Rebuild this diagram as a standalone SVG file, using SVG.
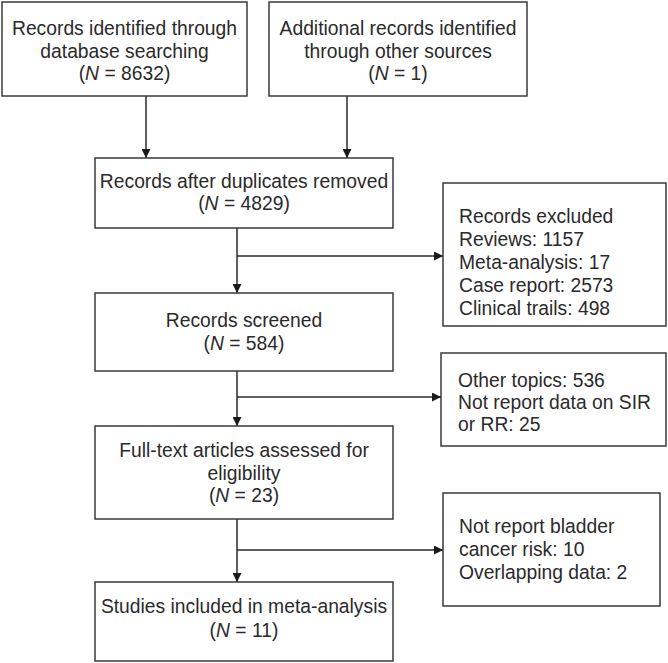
<svg xmlns="http://www.w3.org/2000/svg" width="668" height="663" viewBox="0 0 668 663">
<style>
.box{fill:#fff;stroke:#3a3a3a;stroke-width:1.5}
.t{font-family:"Liberation Sans",Arial,sans-serif;font-size:19.3px;fill:#2a2a2a}
.c{text-anchor:middle}
.ln{stroke:#2a2a2a;stroke-width:1.5;fill:none}
</style>
<defs>
<marker id="ah" viewBox="0 0 10 10" refX="10" refY="5" markerWidth="9" markerHeight="9" markerUnits="userSpaceOnUse" orient="auto">
<path d="M0,0 L10,5 L0,10 z" fill="#1a1a1a"/>
</marker>
</defs>
<rect width="668" height="663" fill="#fff"/>
<g id="connectors">
<line class="ln" x1="146" y1="96" x2="146" y2="158" marker-end="url(#ah)"/>
<line class="ln" x1="347" y1="96" x2="347" y2="158" marker-end="url(#ah)"/>
<line class="ln" x1="237" y1="228" x2="237" y2="293" marker-end="url(#ah)"/>
<line class="ln" x1="237" y1="256" x2="443" y2="256" marker-end="url(#ah)"/>
<line class="ln" x1="237" y1="371" x2="237" y2="426" marker-end="url(#ah)"/>
<line class="ln" x1="237" y1="397" x2="441" y2="397" marker-end="url(#ah)"/>
<line class="ln" x1="237" y1="519" x2="237" y2="582" marker-end="url(#ah)"/>
<line class="ln" x1="237" y1="550" x2="443" y2="550" marker-end="url(#ah)"/>
</g>
<g id="n1">
<rect class="box" x="2" y="2" width="245" height="94"/>
<text class="t c" x="124.5" y="35">Records identified through</text>
<text class="t c" x="124.5" y="58">database searching</text>
<text class="t c" x="124.5" y="80">(<tspan font-style="italic">N</tspan> = 8632)</text>
</g>
<g id="n2">
<rect class="box" x="269" y="2" width="258" height="94"/>
<text class="t c" x="398" y="35">Additional records identified</text>
<text class="t c" x="398" y="58">through other sources</text>
<text class="t c" x="398" y="80">(<tspan font-style="italic">N</tspan> = 1)</text>
</g>
<g id="n3">
<rect class="box" x="95" y="158" width="298" height="70"/>
<text class="t c" x="244" y="188">Records after duplicates removed</text>
<text class="t c" x="244" y="210">(<tspan font-style="italic">N</tspan> = 4829)</text>
</g>
<g id="n4">
<rect class="box" x="95" y="293" width="298" height="78"/>
<text class="t c" x="244" y="327">Records screened</text>
<text class="t c" x="244" y="350">(<tspan font-style="italic">N</tspan> = 584)</text>
</g>
<g id="n5">
<rect class="box" x="95" y="426" width="298" height="93"/>
<text class="t c" x="244" y="457">Full-text articles assessed for</text>
<text class="t c" x="244" y="480">eligibility</text>
<text class="t c" x="244" y="502">(<tspan font-style="italic">N</tspan> = 23)</text>
</g>
<g id="n6">
<rect class="box" x="95" y="582" width="298" height="79"/>
<text class="t c" x="244" y="613">Studies included in meta-analysis</text>
<text class="t c" x="244" y="637">(<tspan font-style="italic">N</tspan> = 11)</text>
</g>
<g id="e1">
<rect class="box" x="443" y="183" width="223" height="143"/>
<text class="t" x="459" y="223">Records excluded</text>
<text class="t" x="459" y="246">Reviews: 1157</text>
<text class="t" x="459" y="269">Meta-analysis: 17</text>
<text class="t" x="459" y="292">Case report: 2573</text>
<text class="t" x="459" y="315">Clinical trails: 498</text>
</g>
<g id="e2">
<rect class="box" x="441" y="353" width="225" height="93"/>
<text class="t" x="458" y="387">Other topics: 536</text>
<text class="t" x="458" y="409">Not report data on SIR</text>
<text class="t" x="458" y="431">or RR: 25</text>
</g>
<g id="e3">
<rect class="box" x="443" y="493" width="217" height="113"/>
<text class="t" x="459" y="533">Not report bladder</text>
<text class="t" x="459" y="556">cancer risk: 10</text>
<text class="t" x="459" y="579">Overlapping data: 2</text>
</g>
</svg>
